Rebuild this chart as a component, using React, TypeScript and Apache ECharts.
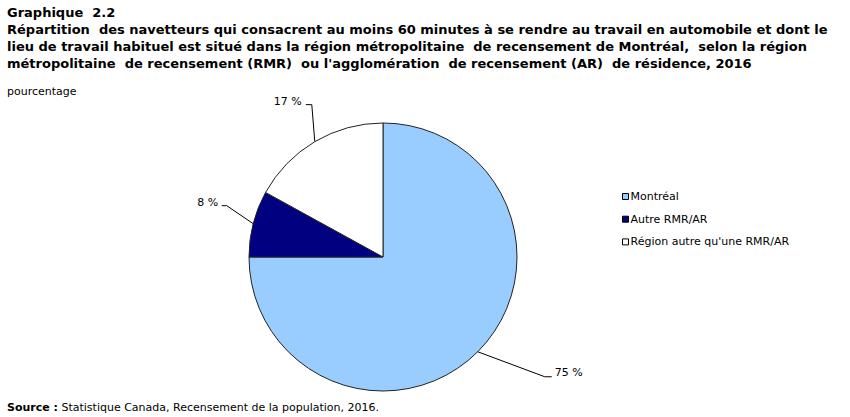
import React, { useEffect, useRef } from "react";
import * as echarts from "echarts";

const categories = ["Montréal", "Autre RMR/AR", "Région autre qu'une RMR/AR"];
const values = [75, 8, 17];
const colors = ["#99CCFF", "#000080", "#FFFFFF"];

const titleLines = [
  "Graphique  2.2",
  "Répartition  des navetteurs qui consacrent au moins 60 minutes à se rendre au travail en automobile et dont le",
  "lieu de travail habituel est situé dans la région métropolitaine  de recensement de Montréal,  selon la région",
  "métropolitaine  de recensement (RMR)  ou l'agglomération  de recensement (AR)  de résidence, 2016",
];

const FONT = "Verdana, 'DejaVu Sans', sans-serif";

// label-line geometry relative to the slice-edge anchor computed by ECharts
// [elbowDx, elbowDy, endDx, endDy, labelDx, labelDy]
const leaderOffsets: Record<number, number[]> = {
  0: [67, 25, 74, 25, 77, 21],
  1: [-26.5, -18, -31.5, -18, -35, -21],
  2: [-3, -37, -9, -37, -13, -40],
};

export default function App() {
  const ref = useRef<HTMLDivElement>(null);
  useEffect(() => {
    document.body.style.margin = "0";
    const chart = echarts.init(ref.current!, null, { renderer: "svg" });
    chart.setOption({
      animation: false,
      backgroundColor: "#ffffff",
      title: [
        {
          text: titleLines.join("\n"),
          left: 2,
          top: -1,
          textStyle: {
            fontFamily: FONT,
            fontSize: 13,
            fontWeight: "bold",
            lineHeight: 17,
            color: "#000",
          },
        },
        {
          text: "pourcentage",
          left: 2,
          top: 81,
          textStyle: { fontFamily: FONT, fontSize: 11, fontWeight: "normal", color: "#000" },
        },
        {
          text: "{b|Source :} Statistique Canada, Recensement de la population, 2016.",
          left: 2,
          top: 397,
          textStyle: {
            fontFamily: FONT,
            fontSize: 11,
            fontWeight: "normal",
            color: "#000",
            rich: {
              b: { fontFamily: FONT, fontSize: 11, fontWeight: "bold", color: "#000" },
            },
          },
        },
      ],
      legend: {
        orient: "vertical",
        left: 617,
        top: 186,
        itemWidth: 6,
        itemHeight: 6,
        itemGap: 11.7,
        icon: "rect",
        data: categories,
        textStyle: { fontFamily: FONT, fontSize: 11, color: "#000", padding: [0, 0, 0, -3] },
        itemStyle: { borderColor: "#000", borderWidth: 1 },
      },
      series: [
        {
          type: "pie",
          center: [383, 257],
          radius: 134,
          startAngle: 90,
          clockwise: true,
          avoidLabelOverlap: false,
          itemStyle: { borderColor: "#222", borderWidth: 1 },
          label: {
            show: true,
            position: "outside",
            formatter: "{c} %",
            fontFamily: FONT,
            fontSize: 11,
            color: "#000",
            distanceToLabelLine: 3,
          },
          labelLine: { show: true, length: 20, length2: 5, lineStyle: { color: "#000", width: 1 } },
          labelLayout: (p: any) => {
            const pts = p.labelLinePoints;
            const o = leaderOffsets[p.dataIndex];
            if (!pts || !o) return {};
            const a = pts[0];
            return {
              x: a[0] + o[4],
              y: a[1] + o[5],
              labelLinePoints: [
                [a[0], a[1]],
                [a[0] + o[0], a[1] + o[1]],
                [a[0] + o[2], a[1] + o[3]],
              ],
            };
          },
          emphasis: { disabled: true },
          data: categories.map((name, i) => ({
            name,
            value: values[i],
            itemStyle: { color: colors[i] },
          })),
        },
      ],
    });
    return () => chart.dispose();
  }, []);
  return <div ref={ref} style={{ width: 850, height: 417 }} />;
}
